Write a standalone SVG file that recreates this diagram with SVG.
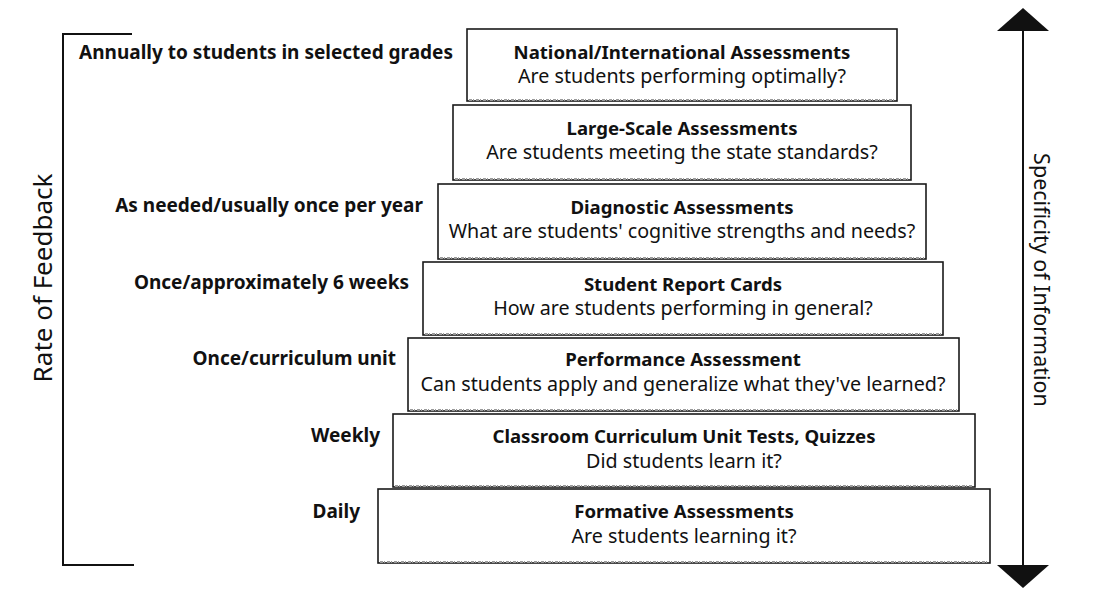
<svg xmlns="http://www.w3.org/2000/svg" width="1105" height="616" viewBox="0 0 1105 616">
<defs>
<style>
.box{fill:#fff;stroke:#1a1a1a;stroke-width:1.6}
.base{stroke:#9a9a9a;stroke-width:2;stroke-dasharray:3 1 1 2}
.t{font-family:"Noto Sans","Open Sans",sans-serif;font-size:19.7px;fill:#111;text-anchor:middle}
.b{font-weight:bold;font-size:18.6px}
.lbl{font-family:"Noto Sans","Open Sans",sans-serif;font-size:19px;font-weight:bold;fill:#111;text-anchor:end}
.ax{font-family:"Noto Sans","Open Sans",sans-serif;font-size:26px;fill:#111;text-anchor:middle}
.ln{stroke:#111;stroke-width:2;fill:none}
</style>
</defs>
<rect width="1105" height="616" fill="#fff"/>
<g id="labels">
<text class="lbl" x="453" y="59">Annually to students in selected grades</text>
<text class="lbl" x="423" y="212">As needed/usually once per year</text>
<text class="lbl" x="409" y="289">Once/approximately 6 weeks</text>
<text class="lbl" x="396" y="365">Once/curriculum unit</text>
<text class="lbl" x="380" y="442">Weekly</text>
<text class="lbl" x="360" y="518">Daily</text>
</g>
<g id="rate-axis">
<path class="ln" d="M132,34 H63 V565 H134"/>
<text class="ax" transform="translate(52,278) rotate(-90)">Rate of Feedback</text>
</g>
<g id="specificity-axis">
<line class="ln" x1="1023" y1="28" x2="1023" y2="567"/>
<polygon points="1023,8 1049,31 997,31" fill="#111"/>
<polygon points="1023,588 1049,565 997,565" fill="#111"/>
<text class="ax" style="font-size:21.5px" transform="translate(1034,280) rotate(90)">Specificity of Information</text>
</g>
<g id="node-national">
<rect class="box" x="467" y="29" width="430" height="72"/>
<line class="base" x1="469" y1="100" x2="895" y2="100"/>
<text class="t b" x="682" y="59">National/International Assessments</text>
<text class="t" x="682" y="83">Are students performing optimally?</text>
</g>
<g id="node-largescale">
<rect class="box" x="453" y="105" width="458" height="75"/>
<line class="base" x1="455" y1="179" x2="909" y2="179"/>
<text class="t b" x="682" y="135">Large-Scale Assessments</text>
<text class="t" x="682" y="159">Are students meeting the state standards?</text>
</g>
<g id="node-diagnostic">
<rect class="box" x="438" y="184" width="488" height="75"/>
<line class="base" x1="440" y1="258" x2="924" y2="258"/>
<text class="t b" x="682" y="214">Diagnostic Assessments</text>
<text class="t" x="682" y="238">What are students' cognitive strengths and needs?</text>
</g>
<g id="node-reportcards">
<rect class="box" x="423" y="262" width="520" height="73"/>
<line class="base" x1="425" y1="334" x2="941" y2="334"/>
<text class="t b" x="683" y="291">Student Report Cards</text>
<text class="t" x="683" y="315">How are students performing in general?</text>
</g>
<g id="node-performance">
<rect class="box" x="408" y="338" width="551" height="73"/>
<line class="base" x1="410" y1="410" x2="957" y2="410"/>
<text class="t b" x="683" y="366">Performance Assessment</text>
<text class="t" x="683" y="391">Can students apply and generalize what they've learned?</text>
</g>
<g id="node-classroom">
<rect class="box" x="393" y="414" width="582" height="73"/>
<line class="base" x1="395" y1="486" x2="973" y2="486"/>
<text class="t b" x="684" y="443">Classroom Curriculum Unit Tests, Quizzes</text>
<text class="t" x="684" y="468">Did students learn it?</text>
</g>
<g id="node-formative">
<rect class="box" x="378" y="489" width="612" height="74"/>
<line class="base" x1="380" y1="562" x2="988" y2="562"/>
<text class="t b" x="684" y="518">Formative Assessments</text>
<text class="t" x="684" y="543">Are students learning it?</text>
</g>
</svg>
